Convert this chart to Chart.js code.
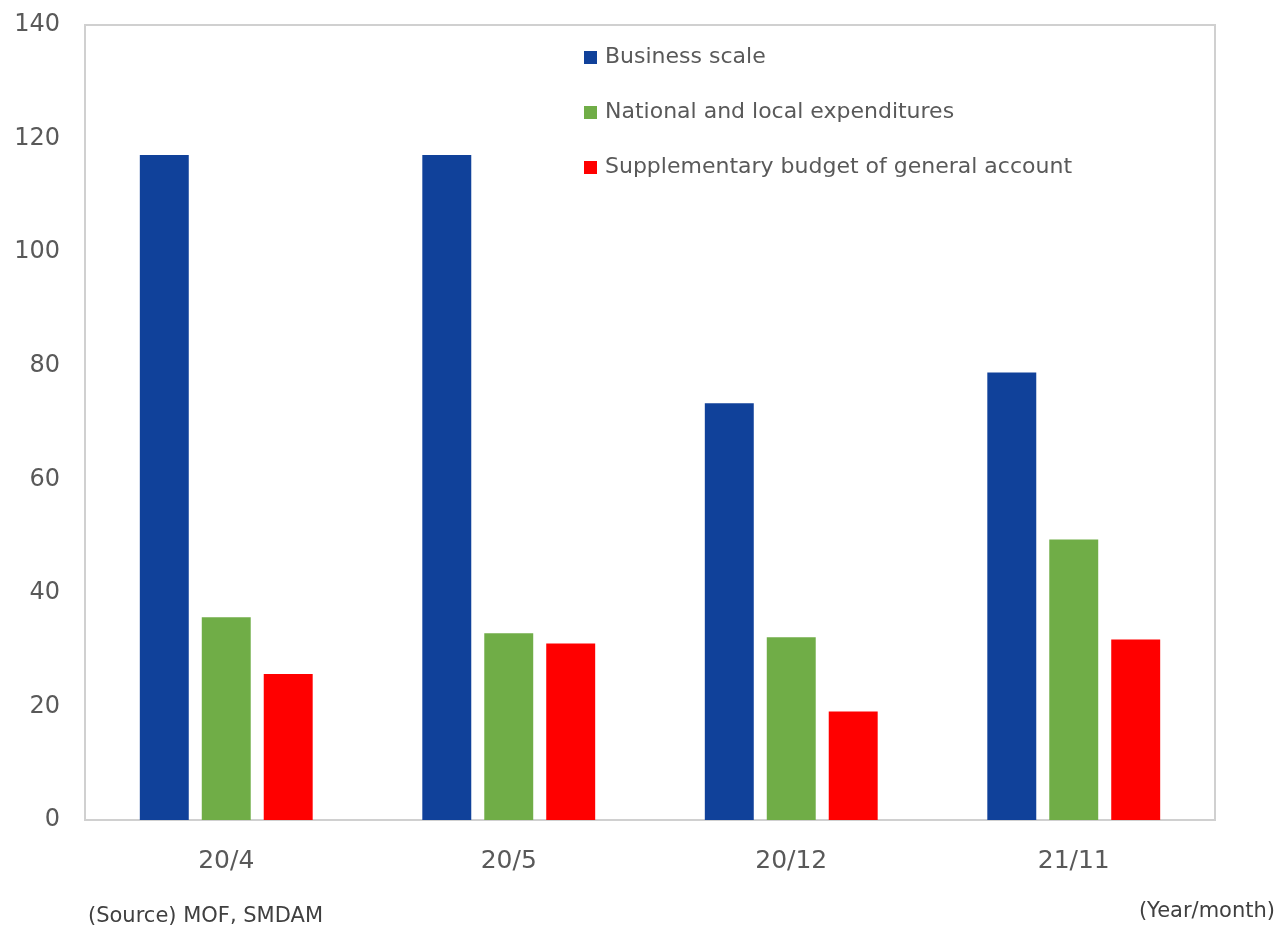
<!DOCTYPE html>
<html>
<head>
<meta charset="utf-8">
<title>Economic packages</title>
<script src="https://cdn.jsdelivr.net/npm/chart.js@4/dist/chart.umd.min.js"></script>
<style>
	body { margin: 0; background: #fff; }
	#wrap { width: 1278px; height: 929px; }
</style>
</head>
<body>
<div id="wrap"><canvas id="myBar" width="1278" height="929"></canvas></div>
<script>
// trillion yen, by package date
var months = ['20/4', '20/5', '20/12', '21/11'];
var businessScale = [117.1, 117.1, 73.4, 78.8];
var nationalLocal = [35.7, 32.9, 32.2, 49.4];
var supplementary = [25.7, 31.1, 19.1, 31.8];
var yTicks = [0, 20, 40, 60, 80, 100, 120, 140];

var FONT = "'DejaVu Sans', Verdana, sans-serif";
var GREY = '#595959';

// frame round the plot, legend list and footnotes
var frameAndNotes = {
	id: 'frameAndNotes',
	beforeDatasetsDraw: function(chart) {
		var a = chart.chartArea, ctx = chart.ctx;
		ctx.save();
		ctx.strokeStyle = '#D0D0D0';
		ctx.lineWidth = 2;
		ctx.strokeRect(a.left, a.top, a.right - a.left, a.bottom - a.top);
		ctx.restore();
	},
	afterDraw: function(chart) {
		var a = chart.chartArea, ctx = chart.ctx;
		ctx.save();
		ctx.font = '22px ' + FONT;
		ctx.textBaseline = 'middle';
		chart.data.datasets.forEach(function(ds, i) {
			var y = a.top + 32 + i * 55;
			ctx.fillStyle = ds.backgroundColor;
			ctx.fillRect(a.left + 499, y - 6, 13, 13);
			ctx.fillStyle = GREY;
			ctx.fillText(ds.label, a.left + 520, y);
		});
		ctx.font = '21px ' + FONT;
		ctx.fillStyle = '#404040';
		ctx.textAlign = 'left';
		ctx.fillText('(Source) MOF, SMDAM', 88, 917);
		ctx.textAlign = 'right';
		ctx.fillText('(Year/month)', 1275, 912);
		ctx.restore();
	}
};

var config = {
	type: 'bar',
	data: {
		labels: months,
		datasets: [{
			label: 'Business scale',
			data: businessScale,
			backgroundColor: '#10419A'
		}, {
			label: 'National and local expenditures',
			data: nationalLocal,
			backgroundColor: '#70AD47'
		}, {
			label: 'Supplementary budget of general account',
			data: supplementary,
			backgroundColor: '#FF0000'
		}]
	},
	options: {
		responsive: false,
		animation: false,
		categoryPercentage: 0.658,
		barPercentage: 0.79,
		layout: {
			padding: { top: 25, right: 63, bottom: 0, left: 0 }
		},
		plugins: {
			legend: { display: false },
			tooltip: { enabled: false }
		},
		scales: {
			x: {
				grid: { display: false, drawTicks: false },
				border: { display: false },
				ticks: { color: GREY, padding: 26, font: { family: FONT, size: 25 } },
				afterFit: function(axis) { axis.height = 109; }
			},
			y: {
				min: 0,
				max: 140,
				grid: { display: false, drawTicks: false },
				border: { display: false },
				afterBuildTicks: function(axis) {
					axis.ticks = yTicks.map(function(v) { return { value: v }; });
				},
				ticks: { color: GREY, padding: 25, font: { family: FONT, size: 24 } },
				afterFit: function(axis) {
					axis.width = 85;
					axis.paddingTop = 0;
					axis.paddingBottom = 0;
				}
			}
		}
	},
	plugins: [frameAndNotes]
};

var myBar = new Chart(document.getElementById('myBar'), config);
</script>
</body>
</html>
